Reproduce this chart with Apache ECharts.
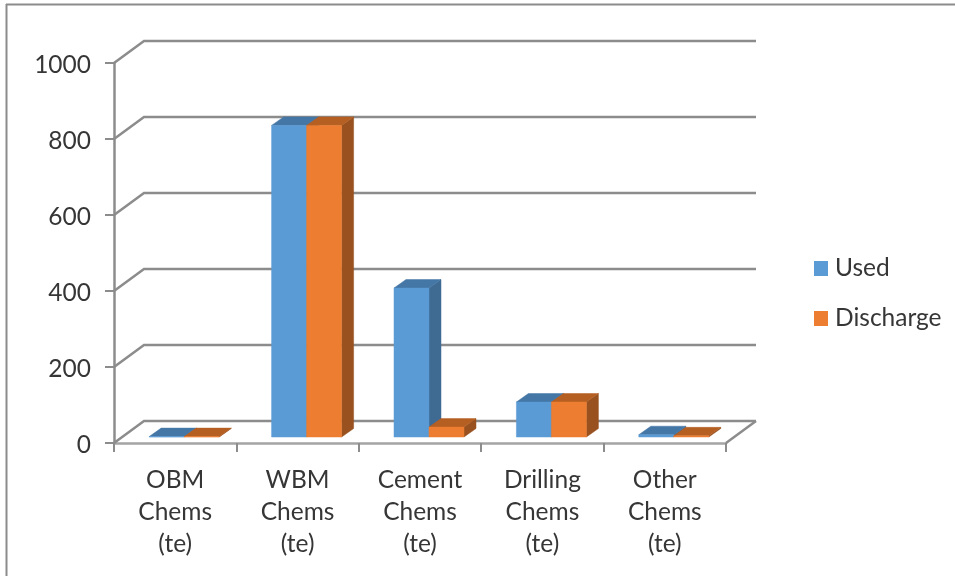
<!DOCTYPE html>
<html><head><meta charset="utf-8">
<style>html,body{margin:0;padding:0;background:#fff}#c{width:955px;height:576px}</style>
<script src="https://cdn.jsdelivr.net/npm/echarts@6/dist/echarts.min.js"></script>
</head><body><div id="c"></div>
<script>
const categories = ['OBM Chems (te)','WBM Chems (te)','Cement Chems (te)','Drilling Chems (te)','Other Chems (te)'];
const used = [1, 820, 392, 92, 6];
const discharge = [1, 820, 26, 92, 3];
const yTicks = [0, 200, 400, 600, 800, 1000];

const FONT = 'Lato, Carlito, "Open Sans", sans-serif';
const TEXT = '#363636', LINE = '#8c8c8c';
const WALL_DX = 30, WALL_DY = -22;
const BAR_OFF_X = 9, BAR_OFF_Y = -6;
const DEPTH_X = 12, DEPTH_Y = -8.5;
const BAR_W = 35;

function wallItem(params, api) {
  const p = api.coord([0, api.value(1)]);
  const r = params.coordSys;
  const x0 = r.x, x1 = r.x + r.width, y = p[1];
  const children = [{
    type: 'polyline',
    shape: { points: [[x0, y], [x0 + WALL_DX, y + WALL_DY], [x1 + WALL_DX, y + WALL_DY]] },
    style: { stroke: LINE, lineWidth: 2.5, fill: null }
  }];
  if (api.value(1) === 0) {
    children.push({
      type: 'line',
      shape: { x1: x1, y1: y, x2: x1 + WALL_DX, y2: y + WALL_DY },
      style: { stroke: LINE, lineWidth: 2.5 }
    });
  }
  return { type: 'group', children };
}

function barItem(front, top, side, shift) {
  return function (params, api) {
    const c = api.coord([api.value(0), api.value(1)]);
    const b = api.coord([api.value(0), 0]);
    const x0 = c[0] + BAR_OFF_X + shift, x1 = x0 + BAR_W;
    const yT = c[1] + BAR_OFF_Y, yB = b[1] + BAR_OFF_Y;
    const poly = (pts, fill) => ({ type: 'polygon', shape: { points: pts }, style: { fill, stroke: fill, lineWidth: 0.5 } });
    return { type: 'group', children: [
      poly([[x1, yT], [x1 + DEPTH_X, yT + DEPTH_Y], [x1 + DEPTH_X, yB + DEPTH_Y], [x1, yB]], side),
      poly([[x0, yT], [x0 + DEPTH_X, yT + DEPTH_Y], [x1 + DEPTH_X, yT + DEPTH_Y], [x1, yT]], top),
      poly([[x0, yT], [x1, yT], [x1, yB], [x0, yB]], front)
    ] };
  };
}

const chart = echarts.init(document.getElementById('c'), null, { renderer: 'canvas' });
chart.setOption({
  animation: false,
  backgroundColor: '#fff',
  textStyle: { fontFamily: FONT },
  graphic: [
    { type: 'line', shape: { x1: 6, y1: 4.5, x2: 955, y2: 4.5 }, style: { stroke: '#8c8c8c', lineWidth: 2 } },
    { type: 'line', shape: { x1: 6.5, y1: 4, x2: 6.5, y2: 576 }, style: { stroke: '#8c8c8c', lineWidth: 2 } }
  ],
  grid: { left: 114, top: 63, width: 612, height: 380 },
  legend: {
    orient: 'vertical', left: 814, top: 256, padding: 0, itemWidth: 14, itemHeight: 15, itemGap: 25,
    icon: 'rect', data: ['Used', 'Discharge'],
    textStyle: { fontSize: 24.5, color: TEXT, fontFamily: FONT, padding: [0, 0, 0, 2] }
  },
  xAxis: {
    type: 'category', data: categories,
    axisTick: { show: true, alignWithLabel: false, length: 9, lineStyle: { color: LINE, width: 2 } },
    axisLine: { show: true, lineStyle: { color: '#a4a4a4', width: 2.5 } },
    axisLabel: {
      interval: 0, fontSize: 24.5, color: TEXT, lineHeight: 32, margin: 21, fontFamily: FONT,
      formatter: v => v.split(' ').join('\n')
    },
    splitLine: { show: false }
  },
  yAxis: {
    type: 'value', min: 0, max: 1000, interval: 200,
    axisLine: { show: true, lineStyle: { color: LINE, width: 2.5 } },
    axisTick: { show: true, length: 9, lineStyle: { color: LINE, width: 2 } },
    axisLabel: {
      color: TEXT, margin: 23, formatter: v => '{t|' + v + '}',
      rich: { t: { fontSize: 24.5, color: TEXT, fontFamily: FONT, padding: [5, 0, 0, 0] } }
    },
    splitLine: { show: false }
  },
  series: [
    { type: 'custom', name: 'walls', silent: true, z: 1, renderItem: wallItem,
      data: yTicks.map(t => [0, t]), encode: { x: 0, y: 1 } },
    { type: 'custom', name: 'Used', z: 2, itemStyle: { color: '#5b9bd5' },
      renderItem: barItem('#5b9bd5', '#4477a6', '#3f6a92', -BAR_W),
      data: used.map((v, i) => [i, v]), encode: { x: 0, y: 1 } },
    { type: 'custom', name: 'Discharge', z: 3, itemStyle: { color: '#ed7d31' },
      renderItem: barItem('#ed7d31', '#b55f22', '#98511f', 0),
      data: discharge.map((v, i) => [i, v]), encode: { x: 0, y: 1 } }
  ]
});
</script></body></html>
